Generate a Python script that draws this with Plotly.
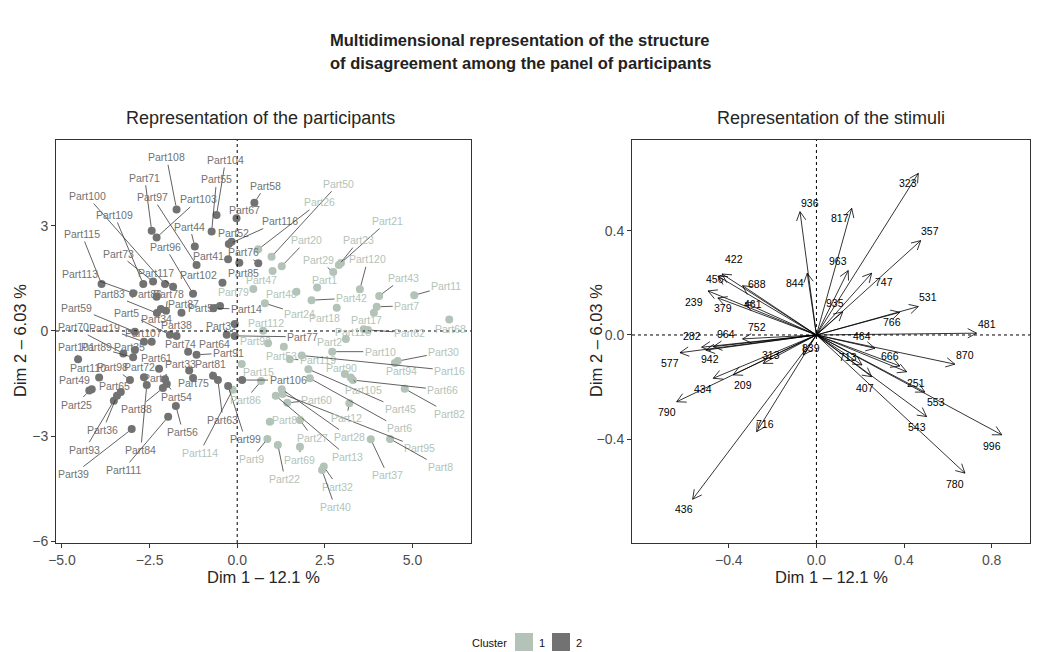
import math
import plotly.graph_objects as go

W, H = 1041, 652

# ---------------- data: participants ----------------
part_names = [
    "Part108", "Part104", "Part55", "Part71", "Part103", "Part97", "Part58", "Part67", "Part100", "Part109",
    "Part44", "Part96", "Part41", "Part52", "Part116", "Part76", "Part85", "Part115", "Part113", "Part73",
    "Part117", "Part102", "Part83", "Part86", "Part78", "Part87", "Part57", "Part14", "Part59", "Part5",
    "Part34", "Part38", "Part31", "Part19", "Part107", "Part74", "Part64", "Part70", "Part89", "Part35",
    "Part101", "Part61", "Part91", "Part33", "Part81", "Part110", "Part98", "Part72", "Part4", "Part54",
    "Part75", "Part56", "Part49", "Part25", "Part65", "Part36", "Part93", "Part88", "Part84", "Part39",
    "Part111", "Part63", "Part99", "Part106", "Part77",
    "Part50", "Part26", "Part21", "Part23", "Part20", "Part29", "Part120", "Part1", "Part43", "Part11",
    "Part42", "Part7", "Part18", "Part17", "Part68", "Part118", "Part62", "Part2", "Part10", "Part30",
    "Part94", "Part119", "Part16", "Part45", "Part90", "Part105", "Part66", "Part82", "Part6", "Part60",
    "Part95", "Part12", "Part28", "Part13", "Part80", "Part27", "Part37", "Part8", "Part69", "Part9",
    "Part22", "Part32", "Part40", "Part114", "Part86", "Part15", "Part79", "Part47", "Part48", "Part24",
    "Part112", "Part92", "Part53",
]
part_cluster = [2] * 65 + [1] * 53
part_dim1 = [
    -1.73, -0.59, -0.73, -2.44, -2.30, -1.16, 0.49, -0.02, -2.06, -2.68,
    -1.21, -1.26, -0.26, -0.16, -0.24, 0.60, 0.06, -3.87, -2.97, -2.40,
    -1.83, -0.42, -2.29, -2.30, -2.03, -1.59, -0.49, -0.68, -2.92, -1.92,
    -2.18, -1.73, -0.07, -2.66, -2.44, -1.40, -0.30, -3.25, -2.97, -2.92,
    -4.54, -2.23, -1.16, -1.37, -0.69, -3.94, -3.06, -2.66, -2.06, -2.01,
    -1.26, -1.75, -4.15, -4.22, -3.32, -3.43, -3.52, -2.12, -2.58, -3.01,
    -1.97, -0.55, -0.26, 0.14, -0.07,
    0.98, 0.60, 2.96, 2.90, 1.27, 2.74, 3.50, 2.28, 4.05, 5.05,
    2.12, 3.98, 2.84, 3.90, 6.05, 3.61, 3.73, 3.10, 2.71, 4.58,
    4.50, 1.50, 1.84, 2.03, 3.07, 3.24, 3.30, 4.78, 2.07, 1.43,
    1.30, 3.20, 1.27, 1.10, 0.93, 1.79, 3.81, 4.36, 1.79, 0.86,
    1.16, 2.47, 2.42, -0.13, 0.68, 0.13, 0.46, 1.01, 1.69, 0.79,
    0.74, 0.88, 1.33,
]
part_dim2 = [
    3.47, 3.31, 2.84, 2.86, 2.67, 1.88, 3.66, 3.22, 1.34, 1.34,
    2.41, 1.06, 2.05, 2.55, 2.48, 1.93, 1.95, 1.34, 1.08, 1.41,
    1.26, 1.38, 0.51, 0.98, 0.58, 0.52, 0.71, 0.65, -0.02, -0.11,
    0.63, -0.14, 0.20, -0.31, -0.31, -0.59, -0.11, -0.64, -0.75, -0.54,
    -0.81, -1.08, -0.68, -1.13, -1.28, -1.33, -1.40, -1.32, -1.38, -1.51,
    -1.34, -2.14, -1.66, -1.70, -1.74, -1.85, -1.99, -1.63, -1.54, -2.80,
    -2.45, -1.40, -1.57, -1.40, -0.14,
    2.12, 2.33, 1.94, 1.88, 1.85, 1.68, 1.19, 1.24, 1.00, 1.02,
    0.88, 0.69, 0.66, 0.52, 0.33, 0.05, 0.03, -0.23, -0.59, -0.86,
    -0.91, -0.81, -0.70, -1.09, -1.23, -1.33, -1.40, -1.65, -1.35, -2.05,
    -1.80, -2.06, -1.66, -1.85, -2.59, -2.54, -3.09, -3.08, -3.30, -3.08,
    -3.25, -3.87, -3.97, -1.68, -1.43, -0.94, 1.20, 1.71, 1.12, 0.79,
    0.01, -0.35, -0.45,
]

# ---------------- data: stimuli ----------------
stim_names = [
    "936", "844", "422", "456", "239", "379", "461", "688", "752", "964",
    "282", "942", "577", "209", "434", "790", "716", "436", "313", "839",
    "323", "817", "357", "963", "747", "935", "531", "766", "481", "464",
    "870", "666", "251", "713", "407", "543", "553", "996", "780",
]
stim_dim1 = [
    -0.075, -0.042, -0.431, -0.450, -0.495, -0.450, -0.326, -0.337, -0.337, -0.471,
    -0.524, -0.505, -0.623, -0.380, -0.471, -0.638, -0.273, -0.565, -0.243, -0.060,
    0.465, 0.161, 0.476, 0.145, 0.252, 0.120, 0.465, 0.381, 0.731, 0.267,
    0.632, 0.381, 0.412, 0.208, 0.252, 0.503, 0.495, 0.846, 0.678,
]
stim_dim2 = [
    0.473, 0.237, 0.234, 0.226, 0.169, 0.142, 0.123, 0.189, -0.015, -0.045,
    -0.047, -0.058, -0.068, -0.153, -0.166, -0.256, -0.371, -0.630, -0.109, -0.077,
    0.620, 0.486, 0.362, 0.247, 0.237, 0.089, 0.109, 0.087, 0.007, -0.051,
    -0.112, -0.119, -0.141, -0.115, -0.160, -0.313, -0.219, -0.383, -0.530,
]

cluster_levels = ["1", "2"]
left_xticks = [-5.0, -2.5, 0.0, 2.5, 5.0]
left_yticks = [-6, -3, 0, 3]
right_xticks = [-0.4, 0.0, 0.4, 0.8]
right_yticks = [-0.8, -0.4, 0.0, 0.4]

# ---------------- layout helpers (label placement, px) ----------------
part_lab_dx = [
    -10, 9, 5, -7, 42, -44, 11, 8, -78, -29,
    -5, -28, -20, 2, 51, -15, 4, -20, -53, -35,
    -17, -24, -47, -10, 2, 2, -17, 33, -58, -43,
    -4, 0, -13, -39, -8, -8, -12, -50, -37, -5,
    -2, -3, 32, -9, -3, -11, -17, -4, -10, 10,
    0, 7, -17, -13, -6, -14, -29, -26, -6, -58,
    -45, 5, 17, 46, 68,
    67, 61, 47, 20, 25, -15, 8, 7, 24, 32,
    40, 30, -12, -7, 1, -11, 42, -16, 48, 46,
    7, 28, 148, 92, -3, 13, 90, 45, 90, 29,
    137, -3, 68, 72, 18, 13, 17, 50, 0, -16,
    7, 14, 13, -33, -16, 17, -20, -11, -15, 35,
    3, -13, -2,
]
part_lab_dy = [
    -52, -55, -52, -53, -38, -68, -17, -8, -88, -69,
    -20, -47, -3, -9, -23, -11, 10, -50, -19, -28,
    -14, -8, -19, -3, -17, -9, 2, 1, -24, -22,
    10, -11, 2, -14, -9, -8, 9, -26, -10, -3,
    -12, -11, -2, -7, -12, -10, -13, -10, -1, 13,
    5, 26, -9, 14, -6, 34, 49, 21, 65, 45,
    53, 40, 53, 0, 1,
    -73, -47, -42, -25, -26, -12, -30, -8, -18, -9,
    -2, -1, 10, 7, 10, 3, 3, 3, 0, -9,
    8, 1, 15, 40, -6, 12, 10, 25, 50, -3,
    54, 15, 48, 61, -2, 18, 36, 28, 13, 20,
    34, 20, 37, 63, 19, 8, 3, 9, 2, 11,
    -8, -2, 9,
]
stim_lab_dx = [
    10, -12, 12, -3, -14, 5, 8, 14, 14, 13,
    -10, 4, -10, 10, -10, -10, 8, -9, 8, 8,
    -10, -12, 9, -10, 12, -8, 10, -8, 10, -13,
    10, -10, 9, -14, -7, -10, 11, -10, -10,
]
stim_lab_dy = [
    -9, 10, -15, 3, 11, 10, 1, -2, -12, -13,
    -11, 9, 10, 10, 11, 10, -8, 10, -8, -7,
    10, 10, -10, -10, 9, -9, -10, 10, -9, -12,
    -9, -10, 11, -8, 11, 10, 10, 11, 11,
]

LIGHT = "#b3c3b8"
DARK = "#727272"
INK = "#262626"
FONT = "Liberation Sans, Arial, sans-serif"

LX = [56 / W, 471 / W]
RX = [632 / W, 1030 / W]
YD = [1 - 543 / H, 1 - 140 / H]
left_xr = [-5.17, 6.67]
left_yr = [-6.05, 5.45]
right_xr = [-0.842, 0.975]
right_yr = [-0.798, 0.748]

fig = go.Figure()

# participants points
for lev, col in zip([1, 2], [LIGHT, DARK]):
    xs = [x for x, c in zip(part_dim1, part_cluster) if c == lev]
    ys = [y for y, c in zip(part_dim2, part_cluster) if c == lev]
    fig.add_trace(go.Scatter(x=xs, y=ys, mode="markers", xaxis="x", yaxis="y",
                             marker=dict(size=8, color=col, line=dict(width=0)),
                             showlegend=False, hoverinfo="skip"))

annotations = []
for n, c, x, y, dx, dy in zip(part_names, part_cluster, part_dim1, part_dim2, part_lab_dx, part_lab_dy):
    col = LIGHT if c == 1 else DARK
    hw = len(n) * 2.9
    far = abs(dx) > hw + 3 or abs(dy) > 9
    base = dict(x=x, y=y, xref="x", yref="y", text=n,
                font=dict(family=FONT, size=10.5, color=col))
    if far:
        base.update(showarrow=True, ax=dx, ay=dy, arrowhead=0, arrowwidth=0.8,
                    arrowcolor="#3a3a3a", standoff=4)
    else:
        base.update(showarrow=False, xshift=dx, yshift=-dy)
    annotations.append(base)

# stimuli arrows
kx = (RX[1] - RX[0]) * W / (right_xr[1] - right_xr[0])
ky = (YD[1] - YD[0]) * H / (right_yr[1] - right_yr[0])
ax_l, ay_l = [], []
head_len, head_ang = 10.0, math.radians(28)
for x, y in zip(stim_dim1, stim_dim2):
    ax_l += [0, x, None]
    ay_l += [0, y, None]
    px, py = x * kx, y * ky
    L = math.hypot(px, py)
    ux, uy = px / L, py / L
    for s in (1, -1):
        ca, sa = math.cos(s * head_ang), math.sin(s * head_ang)
        rx, ry = ux * ca - uy * sa, ux * sa + uy * ca
        hx, hy = px - head_len * rx, py - head_len * ry
        ax_l += [x, hx / kx, None]
        ay_l += [y, hy / ky, None]
fig.add_trace(go.Scatter(x=ax_l, y=ay_l, mode="lines", xaxis="x2", yaxis="y2",
                         line=dict(color="black", width=0.8), showlegend=False,
                         hoverinfo="skip"))
for n, x, y, dx, dy in zip(stim_names, stim_dim1, stim_dim2, stim_lab_dx, stim_lab_dy):
    annotations.append(dict(x=x, y=y, xref="x2", yref="y2", text=n, showarrow=False,
                            xshift=dx, yshift=-dy,
                            font=dict(family=FONT, size=10.5, color="black")))

# dashed reference lines
shapes = []
for xr, yr in (("x", "y"), ("x2", "y2")):
    shapes.append(dict(type="line", xref=xr, yref=yr + " domain", x0=0, x1=0, y0=0, y1=1,
                       line=dict(color="black", width=1, dash="3px,3px")))
    shapes.append(dict(type="line", xref=xr + " domain", yref=yr, x0=0, x1=1, y0=0, y1=0,
                       line=dict(color="black", width=1, dash="3px,3px")))


def paper_ann(text, px, py, size, bold=False, color=INK, angle=0):
    return dict(x=px / W, y=1 - py / H, xref="paper", yref="paper", text=text,
                showarrow=False, textangle=angle, xanchor="center", yanchor="middle",
                font=dict(family=FONT, size=size, color=color,
                          weight="bold" if bold else "normal"))


annotations.append(paper_ann("Multidimensional representation of the structure", 520, 40, 16.5, True, "#222"))
annotations.append(paper_ann("of disagreement among the panel of participants", 520, 63, 16.5, True, "#222"))
annotations.append(paper_ann("Representation of the participants", 260, 118, 18))
annotations.append(paper_ann("Representation of the stimuli", 831, 118, 18))
annotations.append(paper_ann("Dim 1 \u2013 12.1 %", 263, 577, 16.5))
annotations.append(paper_ann("Dim 1 \u2013 12.1 %", 831, 577, 16.5))
annotations.append(paper_ann("Dim 2 \u2013 6.03 %", 20, 341, 16.5, angle=-90))
annotations.append(paper_ann("Dim 2 \u2013 6.03 %", 596, 341, 16.5, angle=-90))

# legend (manual)
annotations.append(paper_ann("Cluster", 489, 643, 11, color="#111"))
for lev, col, bx in zip(cluster_levels, [LIGHT, DARK], [515, 552]):
    shapes.append(dict(type="rect", xref="paper", yref="paper",
                       x0=bx / W, x1=(bx + 18) / W, y0=1 - 651 / H, y1=1 - 633 / H,
                       line=dict(width=0), fillcolor=col))
    annotations.append(paper_ann(lev, bx + 27, 643, 11, color="#111"))


def fmt(v, d):
    s = f"{abs(v):.{d}f}"
    return ("\u2212" + s) if v < 0 else s


axis_common = dict(showline=True, mirror=True, linecolor="#333", linewidth=1,
                   ticks="outside", ticklen=4, tickcolor="#333", tickwidth=1,
                   showgrid=False, zeroline=False, automargin=False,
                   tickfont=dict(family=FONT, size=14, color="#4d4d4d"))

fig.update_layout(
    width=W, height=H,
    margin=dict(l=0, r=0, t=0, b=0),
    paper_bgcolor="white", plot_bgcolor="white",
    showlegend=False,
    xaxis=dict(domain=LX, range=left_xr, anchor="y",
               tickvals=left_xticks, ticktext=[fmt(v, 1) for v in left_xticks], **axis_common),
    yaxis=dict(domain=YD, range=left_yr, anchor="x",
               tickvals=left_yticks, ticktext=[fmt(v, 0) for v in left_yticks], **axis_common),
    xaxis2=dict(domain=RX, range=right_xr, anchor="y2",
                tickvals=right_xticks, ticktext=[fmt(v, 1) for v in right_xticks], **axis_common),
    yaxis2=dict(domain=YD, range=right_yr, anchor="x2",
                tickvals=right_yticks, ticktext=[fmt(v, 1) for v in right_yticks], **axis_common),
    annotations=annotations,
    shapes=shapes,
)

fig.write_html("out.html", config={"displayModeBar": False},
               post_script="document.body.style.margin='0';document.body.style.overflow='hidden';")
